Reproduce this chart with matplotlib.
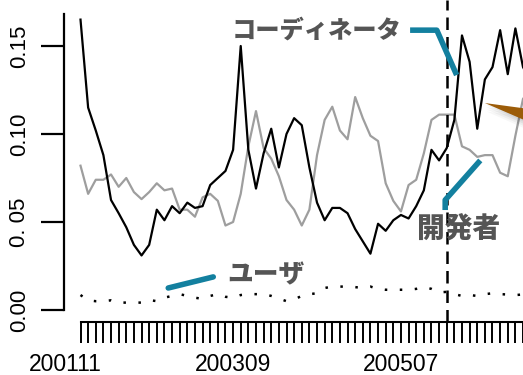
import numpy as np
import matplotlib.pyplot as plt
from matplotlib.patches import Polygon

plt.rcParams['font.family'] = ['Liberation Sans', 'DejaVu Sans']

# monthly shares, index 0 = 2002-01
coordinator = [0.165, 0.115, 0.102, 0.088, 0.0625, 0.055, 0.047, 0.037, 0.031, 0.037,
               0.057, 0.051, 0.059, 0.055, 0.061, 0.058, 0.059, 0.071, 0.075, 0.079,
               0.091, 0.150, 0.091, 0.069, 0.089, 0.103, 0.081, 0.100, 0.109, 0.105,
               0.081, 0.061, 0.051, 0.058, 0.058, 0.055, 0.046, 0.039, 0.032, 0.049,
               0.045, 0.051, 0.054, 0.052, 0.059, 0.068, 0.091, 0.085, 0.092, 0.108,
               0.156, 0.141, 0.103, 0.131, 0.138, 0.159, 0.134, 0.160, 0.138, 0.130]
developer = [0.082, 0.066, 0.074, 0.074, 0.077, 0.070, 0.075, 0.067, 0.063, 0.067,
             0.072, 0.068, 0.069, 0.057, 0.057, 0.053, 0.064, 0.066, 0.062, 0.048,
             0.050, 0.066, 0.093, 0.113, 0.092, 0.086, 0.076, 0.0625, 0.057, 0.048,
             0.057, 0.088, 0.108, 0.1155, 0.102, 0.097, 0.121, 0.109, 0.099, 0.096,
             0.072, 0.062, 0.056, 0.071, 0.074, 0.089, 0.108, 0.111, 0.111, 0.111,
             0.093, 0.091, 0.087, 0.088, 0.088, 0.078, 0.076, 0.099, 0.120, 0.125]
user = [0.0085, 0.0055, 0.005, 0.005, 0.0055, 0.0042, 0.0042, 0.0042, 0.0042, 0.0057,
        0.005, 0.007, 0.008, 0.009, 0.008, 0.007, 0.0063, 0.008, 0.009, 0.0075,
        0.007, 0.0085, 0.009, 0.009, 0.009, 0.008, 0.0065, 0.005, 0.006, 0.008,
        0.009, 0.0095, 0.0125, 0.0133, 0.0133, 0.0133, 0.013, 0.0125, 0.0133, 0.012,
        0.0115, 0.0115, 0.0115, 0.0115, 0.012, 0.013, 0.012, 0.010, 0.0103, 0.009,
        0.008, 0.0085, 0.008, 0.009, 0.0095, 0.009, 0.0088, 0.0085, 0.0088, 0.009]
month_labels = ['200111', '200309', '200507']
label_offsets = [-2, 20, 42]   # months relative to 200201
split_month = 48               # 200601

months = np.arange(len(coordinator))

fig = plt.figure(figsize=(5.23, 3.75), dpi=100)
ax = fig.add_axes([64 / 523, 53 / 375, 536 / 523, 322 / 375])
ax.set_xlim(-2.163, 68.09)
ax.set_ylim(-0.00682, 0.17614)

ax.plot(months, developer, color='#9e9e9e', lw=1.6, zorder=2)
ax.plot(months, coordinator, color='black', lw=1.6, zorder=3)
ax.plot(months, user, color='black', lw=1.8, linestyle=(0, (1.0, 5.0)),
        dash_capstyle='butt', zorder=3)
ax.axvline(split_month, color='black', lw=1.8, linestyle=(0, (5, 2.8)), zorder=4)

for s in ['top', 'right']:
    ax.spines[s].set_visible(False)
ax.spines['left'].set_bounds(0, 0.168)
ax.spines['bottom'].set_bounds(0, 68)
ax.spines['left'].set_linewidth(1.6)
ax.spines['bottom'].set_linewidth(1.5)

ax.set_yticks([0, 0.05, 0.10, 0.15])
ax.set_yticklabels(['0.00', '0. 05', '0.10', '0.15'])
ax.tick_params(axis='y', length=16.6, width=1.6, pad=15.5, labelsize=16)
plt.setp(ax.get_yticklabels(), rotation=90, ha='center', va='center')

ax.set_xticks(np.arange(0, 69))
ax.set_xticklabels([])
ax.tick_params(axis='x', length=15, width=1.4)
for lab, off in zip(month_labels, label_offsets):
    ax.text(off, -0.1335, lab, transform=ax.get_xaxis_transform(),
            ha='center', va='center', fontsize=16.5, clip_on=False)

# callout lines and labels
teal = '#13809f'
jp = dict(family=['Noto Sans CJK JP', 'DejaVu Sans'], fontweight='heavy',
          color='#555555', ha='center', va='center', zorder=6)
ax.plot([43.2, 46.7, 49.3], [0.159, 0.159, 0.1335], color=teal, lw=4,
        solid_capstyle='butt', zorder=5)
ax.plot([52.4, 47.8, 47.8], [0.085, 0.0625, 0.0568], color=teal, lw=4,
        solid_capstyle='butt', zorder=5)
ax.plot([11.5, 17.4], [0.0125, 0.0188], color=teal, lw=4,
        solid_capstyle='round', zorder=5)
ax.text(31.0, 0.159, 'コーディネータ', fontsize=17.5, **jp)
ax.text(49.6, 0.0466, '開発者', fontsize=20, **jp)
ax.text(24.3, 0.0205, 'ユーザ', fontsize=18.5, **jp)

# tapered pointer with a soft shadow
for k, a in enumerate([0.06, 0.05, 0.04, 0.03]):
    d = 0.0012 * (k + 1)
    ax.add_patch(Polygon([[53.2, 0.1176 - d], [60, 0.1135 - d], [60, 0.1045 - d]],
                         closed=True, fc='black', ec='none', alpha=a, zorder=4))
ax.add_patch(Polygon([[53, 0.1176], [60, 0.1135], [60, 0.1045]],
                     closed=True, fc='#9c5c08', ec='none', zorder=5))

fig.savefig('out.png', dpi=100)
